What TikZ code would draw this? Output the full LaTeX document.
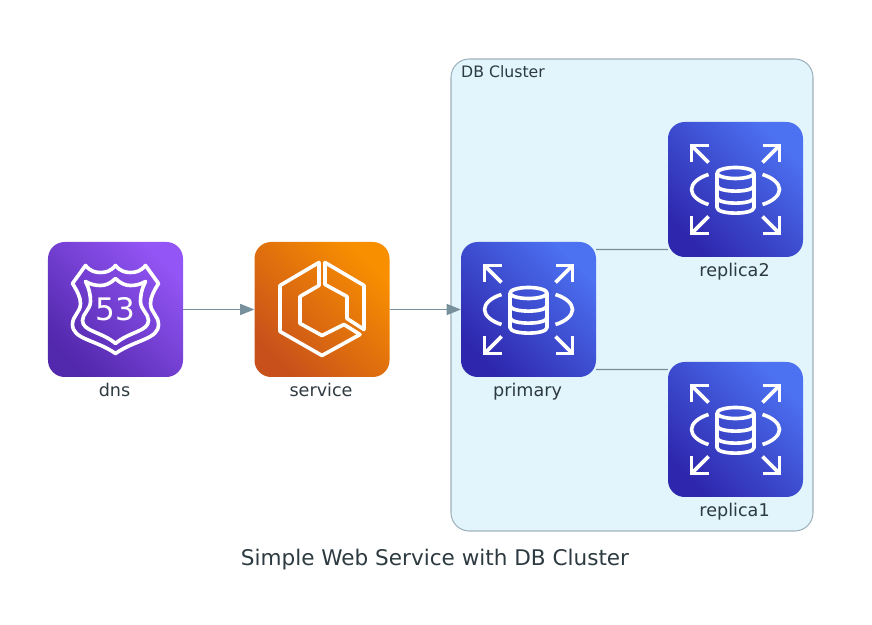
\documentclass[tikz,border=0pt]{standalone}
\usepackage{fontspec}
\setmainfont{DejaVu Sans}
\usetikzlibrary{arrows.meta,positioning}

\definecolor{clusterfill}{HTML}{E2F4FC}
\definecolor{clusterline}{HTML}{9FB2BC}
\definecolor{linkgray}{HTML}{78909C}
\definecolor{textdark}{HTML}{2D3A40}
\definecolor{dnslow}{HTML}{5228AC}
\definecolor{dnshigh}{HTML}{9355F5}
\definecolor{servicelow}{HTML}{C8511B}
\definecolor{servicehigh}{HTML}{F88F00}
\definecolor{rdslow}{HTML}{2E27AD}
\definecolor{rdshigh}{HTML}{4C72F2}

\tikzset{
  iconbox/.style 2 args={minimum size=4.05cm,inner sep=0pt,rounded corners=0.5cm,
    bottom color=#1,top color=#2,shading angle=-45},
  iconlabel/.style={font=\fontsize{15}{16}\selectfont,text=textdark,text height=11pt,text depth=3pt,inner sep=0pt,xshift=-0.8pt},
  iconline/.style={draw=white,line width=3.1pt,line join=round},
  link/.style={draw=linkgray,line width=0.9pt},
  shieldicon/.pic={
    \draw[iconline] (0,44) .. controls (-5,38) and (-10,37) .. (-15,37)
      .. controls (-20,37) and (-25,38) .. (-30,44)
      -- (-43,26) .. controls (-38,18) and (-35,12) .. (-35,6)
      .. controls (-35,-3) and (-43,-6) .. (-43,-15)
      .. controls (-43,-30) and (-20,-30) .. (0,-44)
      .. controls (20,-30) and (43,-30) .. (43,-15)
      .. controls (43,-6) and (35,-3) .. (35,6)
      .. controls (35,12) and (38,18) .. (43,26)
      -- (30,44) .. controls (25,38) and (20,37) .. (15,37)
      .. controls (10,37) and (5,38) .. (0,44) -- cycle;
    \draw[iconline] (0,31) .. controls (-5,26) and (-10,24) .. (-15,24)
      .. controls (-20,24) and (-25,25) .. (-30,28)
      .. controls (-26,20) and (-25,14) .. (-25,8)
      .. controls (-25,0) and (-33,-4) .. (-33,-11)
      .. controls (-33,-22) and (-14,-22) .. (0,-34)
      .. controls (14,-22) and (33,-22) .. (33,-11)
      .. controls (33,-4) and (25,0) .. (25,8)
      .. controls (25,14) and (26,20) .. (30,28)
      .. controls (25,25) and (20,24) .. (15,24)
      .. controls (10,24) and (5,26) .. (0,31) -- cycle;
  },
  ecsicon/.pic={
    \draw[iconline] (-3,47) -- (-42,24) -- (-42,-22) -- (0,-46) -- (38,-25) -- (22,-15)
      -- (0,-26) -- (-22,-14) -- (-22,13) -- (-3,24) -- cycle;
    \draw[iconline] (3,47) -- (42,24) -- (42,-20) -- (25,-9) -- (25,13) -- (3,25) -- cycle;
  },
  rdsicon/.pic={
    % corner arrows
    \foreach \sx/\sy in {1/1,-1/1,1/-1,-1/-1} {
      \draw[iconline,line join=miter] (27*\sx,44*\sy) -- (44*\sx,44*\sy) -- (44*\sx,27*\sy);
      \draw[iconline] (44*\sx,44*\sy) -- (27*\sx,27*\sy);
    }
    % side arcs
    \draw[iconline] (-27,15) .. controls (-37,12) and (-44,6) .. (-44,0) .. controls (-44,-6) and (-37,-12) .. (-27,-15);
    \draw[iconline] (27,15) .. controls (37,12) and (44,6) .. (44,0) .. controls (44,-6) and (37,-12) .. (27,-15);
    % cylinder
    \draw[iconline] (0,16.5) ellipse (18.5 and 5.5);
    \draw[iconline] (-18.5,16.5) -- (-18.5,-18) .. controls (-18.5,-25.5) and (18.5,-25.5) .. (18.5,-18) -- (18.5,16.5);
    \draw[iconline] (-18.5,4) .. controls (-18.5,-3.5) and (18.5,-3.5) .. (18.5,4);
    \draw[iconline] (-18.5,-8) .. controls (-18.5,-15.5) and (18.5,-15.5) .. (18.5,-8);
  },
}

\begin{document}
\begin{tikzpicture}[x=0.03cm,y=0.03cm]
  \useasboundingbox (0,0) rectangle (872,625);

  % cluster
  \node (dbcluster) [draw=clusterline,fill=clusterfill,line width=0.9pt,rounded corners=0.55cm,
    minimum width=10.86cm,minimum height=14.16cm,inner sep=0pt] at (632,330) {};
  \node (clustertitle) [font=\fontsize{13.4}{16}\selectfont,text=textdark,anchor=base west,inner sep=0pt] at (461,547.8) {DB Cluster};

  % icons
  \node (dns) [iconbox={dnslow}{dnshigh}] at (115.5,315.5) {};
  \node (service) [iconbox={servicelow}{servicehigh}] at (322,315.5) {};
  \node (primary) [iconbox={rdslow}{rdshigh}] at (528.5,315.5) {};
  \node (replica2) [iconbox={rdslow}{rdshigh}] at (735.5,435.5) {};
  \node (replica1) [iconbox={rdslow}{rdshigh}] at (735.5,195.5) {};

  \pic at (dns) {shieldicon};
  \pic at (service) {ecsicon};
  \pic at (primary) {rdsicon};
  \pic at (replica2) {rdsicon};
  \pic at (replica1) {rdsicon};
  \node (routenum) [font=\fontsize{26.5}{30}\selectfont,text=white,inner sep=0pt] at (115.5,315.5) {53};

  % labels
  \node (dnslabel) [iconlabel,below=5.6pt of dns] {dns};
  \node (servicelabel) [iconlabel,below=5.6pt of service] {service};
  \node (primarylabel) [iconlabel,below=5.6pt of primary] {primary};
  \node (replica2label) [iconlabel,below=5.6pt of replica2] {replica2};
  \node (replica1label) [iconlabel,below=5.6pt of replica1] {replica1};

  % links
  \draw[link,-{Triangle[length=12pt,width=9.5pt]}] (dns) -- (service);
  \draw[link,-{Triangle[length=12pt,width=9.5pt]}] (service) -- (primary);
  \draw[link] ([yshift=1.8cm]primary.east) -- ([yshift=-1.8cm]replica2.west);
  \draw[link] ([yshift=-1.8cm]primary.east) -- ([yshift=1.8cm]replica1.west);

  \node (diagramtitle) [font=\fontsize{18.4}{20}\selectfont,text=textdark,inner sep=0pt] at (435,65) {Simple Web Service with DB Cluster};
\end{tikzpicture}
\end{document}
